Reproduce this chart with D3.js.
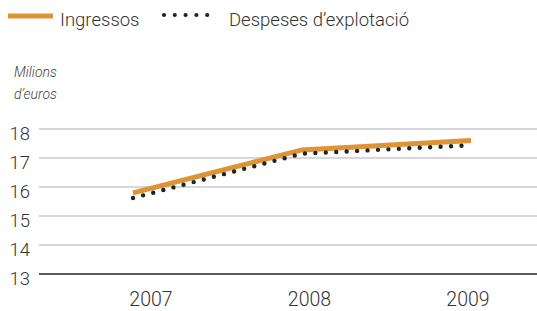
<!DOCTYPE html>
<html>
<head>
<meta charset="utf-8">
<script src="https://cdn.jsdelivr.net/npm/d3@7"></script>
<style>
  body { margin: 0; background: #fff; }
  svg text { font-family: Roboto, "Liberation Sans", Arial, sans-serif; font-weight: 300; }
</style>
</head>
<body>
<div id="chart"></div>
<script>
var years = ["2007", "2008", "2009"];
var ingressos = [15.8, 17.28, 17.6];
var despeses = [15.62, 17.15, 17.44];
var yTicks = [13, 14, 15, 16, 17, 18];

var width = 537, height = 311;

var svg = d3.select("#chart").append("svg")
    .attr("width", width)
    .attr("height", height);

// data points and labels are not quite aligned in the original
var x = d3.scalePoint().domain(years).range([133, 471]);
var xLabel = d3.scalePoint().domain(years).range([151, 468]);
var y = d3.scaleLinear().domain([13, 18]).range([274, 129]);

// grid
svg.selectAll("line.grid")
    .data(yTicks.slice(1))
    .enter().append("line")
    .attr("class", "grid")
    .attr("x1", 39).attr("x2", width)
    .attr("y1", function(d) { return y(d); })
    .attr("y2", function(d) { return y(d); })
    .style("stroke", "#c9cacf")
    .style("stroke-width", 1.5);

svg.append("line")
    .attr("x1", 39).attr("x2", width)
    .attr("y1", y(13)).attr("y2", y(13))
    .style("stroke", "#222")
    .style("stroke-width", 1.3);

// y labels
svg.selectAll("text.ytick")
    .data(yTicks)
    .enter().append("text")
    .attr("class", "ytick")
    .attr("x", 30)
    .attr("y", function(d) { return y(d) + 11; })
    .attr("text-anchor", "end")
    .text(function(d) { return d; })
    .style("font-size", "18.5px")
    .style("fill", "#333");

// x labels
svg.selectAll("text.xtick")
    .data(years)
    .enter().append("text")
    .attr("class", "xtick")
    .attr("x", function(d) { return xLabel(d); })
    .attr("y", 306)
    .attr("text-anchor", "middle")
    .text(function(d) { return d; })
    .style("font-size", "19.5px")
    .style("fill", "#333");

// unit label
svg.append("text")
    .attr("x", 14).attr("y", 77)
    .text("Milions")
    .style("font-size", "14px")
    .style("font-style", "italic")
    .style("fill", "#444");
svg.append("text")
    .attr("x", 14).attr("y", 99)
    .text("d\u2019euros")
    .style("font-size", "14px")
    .style("font-style", "italic")
    .style("fill", "#444");

var line = d3.line()
    .x(function(d, i) { return x(years[i]); })
    .y(function(d) { return y(d); });

svg.append("path")
    .datum(ingressos)
    .attr("d", line)
    .style("fill", "none")
    .style("stroke", "#dc9434")
    .style("stroke-width", 5);

svg.append("path")
    .datum(despeses)
    .attr("d", line)
    .style("fill", "none")
    .style("stroke", "#222")
    .style("stroke-width", 4.4)
    .style("stroke-linecap", "round")
    .style("stroke-dasharray", "0,10.45");

// legend
svg.append("line")
    .attr("x1", 8).attr("x2", 53)
    .attr("y1", 16).attr("y2", 16)
    .style("stroke", "#dc9434")
    .style("stroke-width", 5);
svg.append("text")
    .attr("x", 60).attr("y", 26)
    .text("Ingressos")
    .style("font-size", "18.5px")
    .style("fill", "#333");

svg.append("line")
    .attr("x1", 164).attr("x2", 218)
    .attr("y1", 15).attr("y2", 15)
    .style("stroke", "#222")
    .style("stroke-width", 4.2)
    .style("stroke-linecap", "round")
    .style("stroke-dasharray", "0,10.8");
svg.append("text")
    .attr("x", 229).attr("y", 26)
    .text("Despeses d\u2019explotació")
    .style("font-size", "18.5px")
    .style("fill", "#333");
</script>
</body>
</html>
